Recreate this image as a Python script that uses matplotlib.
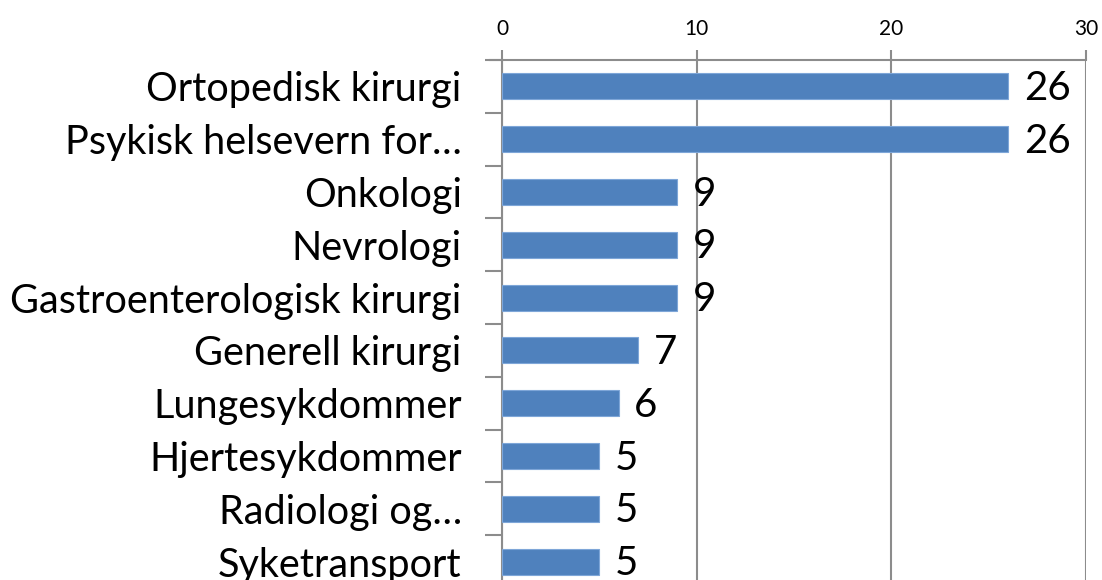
import matplotlib
matplotlib.use("Agg")

import matplotlib.pyplot as plt
import numpy as np

# Data
categories = [
    "Ortopedisk kirurgi",
    "Psykisk helsevern for…",
    "Onkologi",
    "Nevrologi",
    "Gastroenterologisk kirurgi",
    "Generell kirurgi",
    "Lungesykdommer",
    "Hjertesykdommer",
    "Radiologi og…",
    "Syketransport",
]
values = [26, 26, 9, 9, 9, 7, 6, 5, 5, 5]
x_ticks = [0, 10, 20, 30]

plt.rcParams["font.family"] = ["Lato", "DejaVu Sans"]

fig = plt.figure(figsize=(11.02, 5.8), dpi=100)
ax = fig.add_axes([502 / 1102, -8 / 580, 584 / 1102, 528 / 580])

grid_color = "#8c8c8c"
ypos = np.arange(len(categories))
ax.barh(ypos, values, height=0.49, color="#4f81bd", edgecolor="#7ea6d8",
        linewidth=0.8, zorder=3)

for y, v in zip(ypos, values):
    ax.text(v + 0.8, y + 0.04, str(v), va="center", ha="left", fontsize=29,
            color="black", zorder=4)

ax.set_xlim(0, 30)
ax.set_ylim(len(categories) - 0.5, -0.5)

ax.xaxis.tick_top()
ax.set_xticks(x_ticks)
ax.set_xticklabels([str(t) for t in x_ticks], fontsize=15)
ax.tick_params(axis="x", direction="out", length=7, width=1.5,
               color=grid_color, pad=8)
ax.grid(axis="x", color=grid_color, linewidth=1.5, zorder=0)

ax.set_yticks(ypos)
ax.set_yticklabels(categories, fontsize=28.5)
ax.tick_params(axis="y", which="major", length=0, pad=29)
ax.set_yticks(np.arange(len(categories) + 1) - 0.5, minor=True)
ax.tick_params(axis="y", which="minor", direction="out", length=12,
               width=1.5, color=grid_color)

for side in ["right", "bottom"]:
    ax.spines[side].set_visible(False)
for side in ["left", "top"]:
    ax.spines[side].set_color(grid_color)
    ax.spines[side].set_linewidth(1.5)
ax.spines["top"].set_bounds(-0.62, 30)

fig.savefig("out.png", dpi=100)
plt.close(fig)
